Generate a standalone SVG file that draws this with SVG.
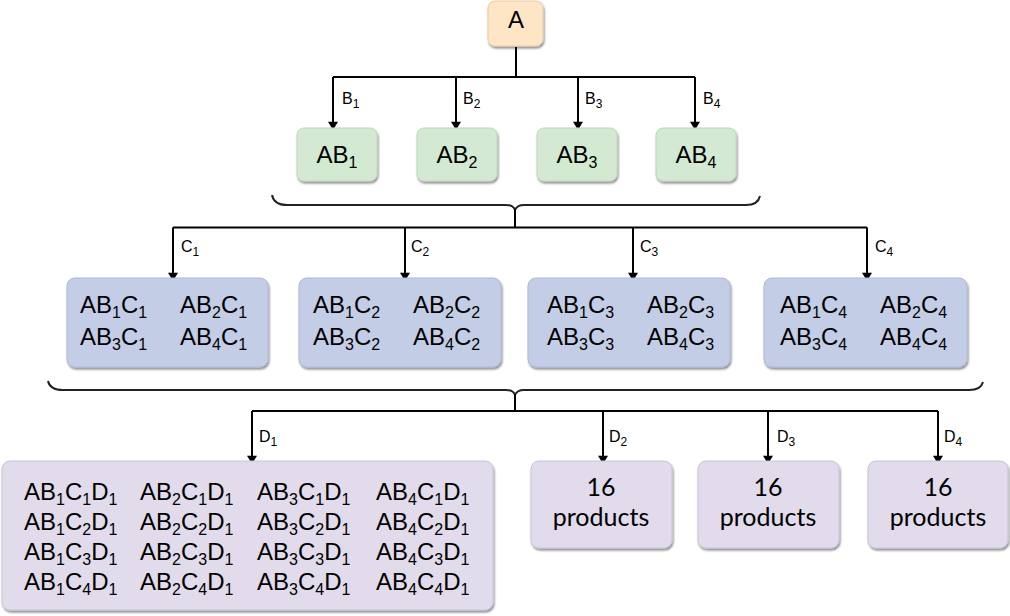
<svg xmlns="http://www.w3.org/2000/svg" width="1010" height="616" viewBox="0 0 1010 616">
<defs>
<marker id="ah" markerUnits="userSpaceOnUse" markerWidth="12" markerHeight="10" viewBox="0 0 10 12" refX="10" refY="6" orient="auto">
<path d="M0,0 L10,6 L0,12 z" fill="#000"/>
</marker>
<filter id="sh" x="-10%" y="-10%" width="120%" height="130%">
<feDropShadow dx="1" dy="2" stdDeviation="1" flood-color="#000" flood-opacity="0.45"/>
</filter>
</defs>
<style>
.conn{stroke:#000;stroke-width:2;fill:none}
.brace{stroke:#222;stroke-width:2;fill:none}
.box{filter:url(#sh);stroke-width:1}
.a{fill:#fde5c6;stroke:#e8cda8}
.g{fill:#d3e9d2;stroke:#bcd6bb}
.b{fill:#c4cde6;stroke:#adb8d6}
.p{fill:#e1dbeb;stroke:#cbc3da}
.t{font-family:"Liberation Sans",Arial,sans-serif;font-size:24px;fill:#000}
.m{text-anchor:middle}
.s{font-size:16px}
.l{font-family:"Liberation Sans",Arial,sans-serif;font-size:16px;fill:#000}
.ls{font-size:12px}
.q{font-family:Lato,"Open Sans",sans-serif;font-size:25px;fill:#000;text-anchor:middle}
</style>

<g id="connectors">
<path class="conn" d="M516,47 V77 M333,77 H695"/>
<path class="conn" d="M333,77 V130" marker-end="url(#ah)"/>
<path class="conn" d="M456,77 V130" marker-end="url(#ah)"/>
<path class="conn" d="M578,77 V130" marker-end="url(#ah)"/>
<path class="conn" d="M695,77 V130" marker-end="url(#ah)"/>
<path class="brace" d="M272,195 Q274,205 287,205 H506 Q513,205 515,210 Q517,205 524,205 H746 Q758,205 760,196"/>
<path class="conn" d="M515,209 V227.5 M173,227.5 H867"/>
<path class="conn" d="M173,227.5 V281" marker-end="url(#ah)"/>
<path class="conn" d="M405,227.5 V281" marker-end="url(#ah)"/>
<path class="conn" d="M633,227.5 V281" marker-end="url(#ah)"/>
<path class="conn" d="M867,227.5 V281" marker-end="url(#ah)"/>
<path class="brace" d="M48,381 Q50,390 63,390 H506 Q513,390 515,395 Q517,390 524,390 H969 Q981,390 983,382"/>
<path class="conn" d="M515,394 V411 M252,411 H938"/>
<path class="conn" d="M252,411 V464" marker-end="url(#ah)"/>
<path class="conn" d="M603,411 V464" marker-end="url(#ah)"/>
<path class="conn" d="M768,411 V464" marker-end="url(#ah)"/>
<path class="conn" d="M938,411 V464" marker-end="url(#ah)"/>
</g>

<g id="labels">
<text class="l" x="342" y="104">B<tspan class="ls" dy="4">1</tspan></text>
<text class="l" x="463" y="104">B<tspan class="ls" dy="4">2</tspan></text>
<text class="l" x="585" y="104">B<tspan class="ls" dy="4">3</tspan></text>
<text class="l" x="703" y="104">B<tspan class="ls" dy="4">4</tspan></text>
<text class="l" x="181" y="252">C<tspan class="ls" dy="4">1</tspan></text>
<text class="l" x="411" y="252">C<tspan class="ls" dy="4">2</tspan></text>
<text class="l" x="640" y="252">C<tspan class="ls" dy="4">3</tspan></text>
<text class="l" x="875" y="252">C<tspan class="ls" dy="4">4</tspan></text>
<text class="l" x="259" y="442">D<tspan class="ls" dy="4">1</tspan></text>
<text class="l" x="609" y="442">D<tspan class="ls" dy="4">2</tspan></text>
<text class="l" x="777" y="442">D<tspan class="ls" dy="4">3</tspan></text>
<text class="l" x="944" y="442">D<tspan class="ls" dy="4">4</tspan></text>
</g>

<g id="node-A">
<rect class="box a" x="488" y="1" width="55" height="45" rx="7"/>
<text class="t m" x="516" y="28">A</text>
</g>

<g id="node-AB1">
<rect class="box g" x="297" y="128" width="80" height="53" rx="7"/>
<text class="t m" x="337" y="163">AB<tspan class="s" dy="5">1</tspan></text>
</g>
<g id="node-AB2">
<rect class="box g" x="417" y="128" width="80" height="53" rx="7"/>
<text class="t m" x="457" y="163">AB<tspan class="s" dy="5">2</tspan></text>
</g>
<g id="node-AB3">
<rect class="box g" x="537" y="128" width="80" height="53" rx="7"/>
<text class="t m" x="577" y="163">AB<tspan class="s" dy="5">3</tspan></text>
</g>
<g id="node-AB4">
<rect class="box g" x="656" y="128" width="80" height="53" rx="7"/>
<text class="t m" x="696" y="163">AB<tspan class="s" dy="5">4</tspan></text>
</g>

<g id="node-C1">
<rect class="box b" x="67" y="278" width="201" height="89" rx="8"/>
<text class="t" x="80" y="313">AB<tspan class="s" dy="5">1</tspan><tspan dy="-5">C</tspan><tspan class="s" dy="5">1</tspan></text>
<text class="t" x="180" y="313">AB<tspan class="s" dy="5">2</tspan><tspan dy="-5">C</tspan><tspan class="s" dy="5">1</tspan></text>
<text class="t" x="80" y="345">AB<tspan class="s" dy="5">3</tspan><tspan dy="-5">C</tspan><tspan class="s" dy="5">1</tspan></text>
<text class="t" x="180" y="345">AB<tspan class="s" dy="5">4</tspan><tspan dy="-5">C</tspan><tspan class="s" dy="5">1</tspan></text>
</g>
<g id="node-C2">
<rect class="box b" x="299" y="278" width="202" height="89" rx="8"/>
<text class="t" x="313" y="313">AB<tspan class="s" dy="5">1</tspan><tspan dy="-5">C</tspan><tspan class="s" dy="5">2</tspan></text>
<text class="t" x="413" y="313">AB<tspan class="s" dy="5">2</tspan><tspan dy="-5">C</tspan><tspan class="s" dy="5">2</tspan></text>
<text class="t" x="313" y="345">AB<tspan class="s" dy="5">3</tspan><tspan dy="-5">C</tspan><tspan class="s" dy="5">2</tspan></text>
<text class="t" x="413" y="345">AB<tspan class="s" dy="5">4</tspan><tspan dy="-5">C</tspan><tspan class="s" dy="5">2</tspan></text>
</g>
<g id="node-C3">
<rect class="box b" x="528" y="278" width="202" height="89" rx="8"/>
<text class="t" x="547" y="313">AB<tspan class="s" dy="5">1</tspan><tspan dy="-5">C</tspan><tspan class="s" dy="5">3</tspan></text>
<text class="t" x="647" y="313">AB<tspan class="s" dy="5">2</tspan><tspan dy="-5">C</tspan><tspan class="s" dy="5">3</tspan></text>
<text class="t" x="547" y="345">AB<tspan class="s" dy="5">3</tspan><tspan dy="-5">C</tspan><tspan class="s" dy="5">3</tspan></text>
<text class="t" x="647" y="345">AB<tspan class="s" dy="5">4</tspan><tspan dy="-5">C</tspan><tspan class="s" dy="5">3</tspan></text>
</g>
<g id="node-C4">
<rect class="box b" x="764" y="278" width="203" height="89" rx="8"/>
<text class="t" x="780" y="313">AB<tspan class="s" dy="5">1</tspan><tspan dy="-5">C</tspan><tspan class="s" dy="5">4</tspan></text>
<text class="t" x="880" y="313">AB<tspan class="s" dy="5">2</tspan><tspan dy="-5">C</tspan><tspan class="s" dy="5">4</tspan></text>
<text class="t" x="780" y="345">AB<tspan class="s" dy="5">3</tspan><tspan dy="-5">C</tspan><tspan class="s" dy="5">4</tspan></text>
<text class="t" x="880" y="345">AB<tspan class="s" dy="5">4</tspan><tspan dy="-5">C</tspan><tspan class="s" dy="5">4</tspan></text>
</g>

<g id="node-D1">
<rect class="box p" x="2" y="461" width="491" height="149" rx="8"/>
<text class="t" x="24" y="500">AB<tspan class="s" dy="5">1</tspan><tspan dy="-5">C</tspan><tspan class="s" dy="5">1</tspan><tspan dy="-5">D</tspan><tspan class="s" dy="5">1</tspan></text>
<text class="t" x="140" y="500">AB<tspan class="s" dy="5">2</tspan><tspan dy="-5">C</tspan><tspan class="s" dy="5">1</tspan><tspan dy="-5">D</tspan><tspan class="s" dy="5">1</tspan></text>
<text class="t" x="257" y="500">AB<tspan class="s" dy="5">3</tspan><tspan dy="-5">C</tspan><tspan class="s" dy="5">1</tspan><tspan dy="-5">D</tspan><tspan class="s" dy="5">1</tspan></text>
<text class="t" x="376" y="500">AB<tspan class="s" dy="5">4</tspan><tspan dy="-5">C</tspan><tspan class="s" dy="5">1</tspan><tspan dy="-5">D</tspan><tspan class="s" dy="5">1</tspan></text>
<text class="t" x="24" y="530">AB<tspan class="s" dy="5">1</tspan><tspan dy="-5">C</tspan><tspan class="s" dy="5">2</tspan><tspan dy="-5">D</tspan><tspan class="s" dy="5">1</tspan></text>
<text class="t" x="140" y="530">AB<tspan class="s" dy="5">2</tspan><tspan dy="-5">C</tspan><tspan class="s" dy="5">2</tspan><tspan dy="-5">D</tspan><tspan class="s" dy="5">1</tspan></text>
<text class="t" x="257" y="530">AB<tspan class="s" dy="5">3</tspan><tspan dy="-5">C</tspan><tspan class="s" dy="5">2</tspan><tspan dy="-5">D</tspan><tspan class="s" dy="5">1</tspan></text>
<text class="t" x="376" y="530">AB<tspan class="s" dy="5">4</tspan><tspan dy="-5">C</tspan><tspan class="s" dy="5">2</tspan><tspan dy="-5">D</tspan><tspan class="s" dy="5">1</tspan></text>
<text class="t" x="24" y="560">AB<tspan class="s" dy="5">1</tspan><tspan dy="-5">C</tspan><tspan class="s" dy="5">3</tspan><tspan dy="-5">D</tspan><tspan class="s" dy="5">1</tspan></text>
<text class="t" x="140" y="560">AB<tspan class="s" dy="5">2</tspan><tspan dy="-5">C</tspan><tspan class="s" dy="5">3</tspan><tspan dy="-5">D</tspan><tspan class="s" dy="5">1</tspan></text>
<text class="t" x="257" y="560">AB<tspan class="s" dy="5">3</tspan><tspan dy="-5">C</tspan><tspan class="s" dy="5">3</tspan><tspan dy="-5">D</tspan><tspan class="s" dy="5">1</tspan></text>
<text class="t" x="376" y="560">AB<tspan class="s" dy="5">4</tspan><tspan dy="-5">C</tspan><tspan class="s" dy="5">3</tspan><tspan dy="-5">D</tspan><tspan class="s" dy="5">1</tspan></text>
<text class="t" x="24" y="590">AB<tspan class="s" dy="5">1</tspan><tspan dy="-5">C</tspan><tspan class="s" dy="5">4</tspan><tspan dy="-5">D</tspan><tspan class="s" dy="5">1</tspan></text>
<text class="t" x="140" y="590">AB<tspan class="s" dy="5">2</tspan><tspan dy="-5">C</tspan><tspan class="s" dy="5">4</tspan><tspan dy="-5">D</tspan><tspan class="s" dy="5">1</tspan></text>
<text class="t" x="257" y="590">AB<tspan class="s" dy="5">3</tspan><tspan dy="-5">C</tspan><tspan class="s" dy="5">4</tspan><tspan dy="-5">D</tspan><tspan class="s" dy="5">1</tspan></text>
<text class="t" x="376" y="590">AB<tspan class="s" dy="5">4</tspan><tspan dy="-5">C</tspan><tspan class="s" dy="5">4</tspan><tspan dy="-5">D</tspan><tspan class="s" dy="5">1</tspan></text>
</g>

<g id="node-D2">
<rect class="box p" x="531" y="461" width="141" height="87" rx="8"/>
<text class="q" x="601" y="496">16</text>
<text class="q" x="601" y="526">products</text>
</g>
<g id="node-D3">
<rect class="box p" x="698" y="461" width="141" height="87" rx="8"/>
<text class="q" x="768" y="496">16</text>
<text class="q" x="768" y="526">products</text>
</g>
<g id="node-D4">
<rect class="box p" x="868" y="461" width="140" height="87" rx="8"/>
<text class="q" x="938" y="496">16</text>
<text class="q" x="938" y="526">products</text>
</g>
</svg>
